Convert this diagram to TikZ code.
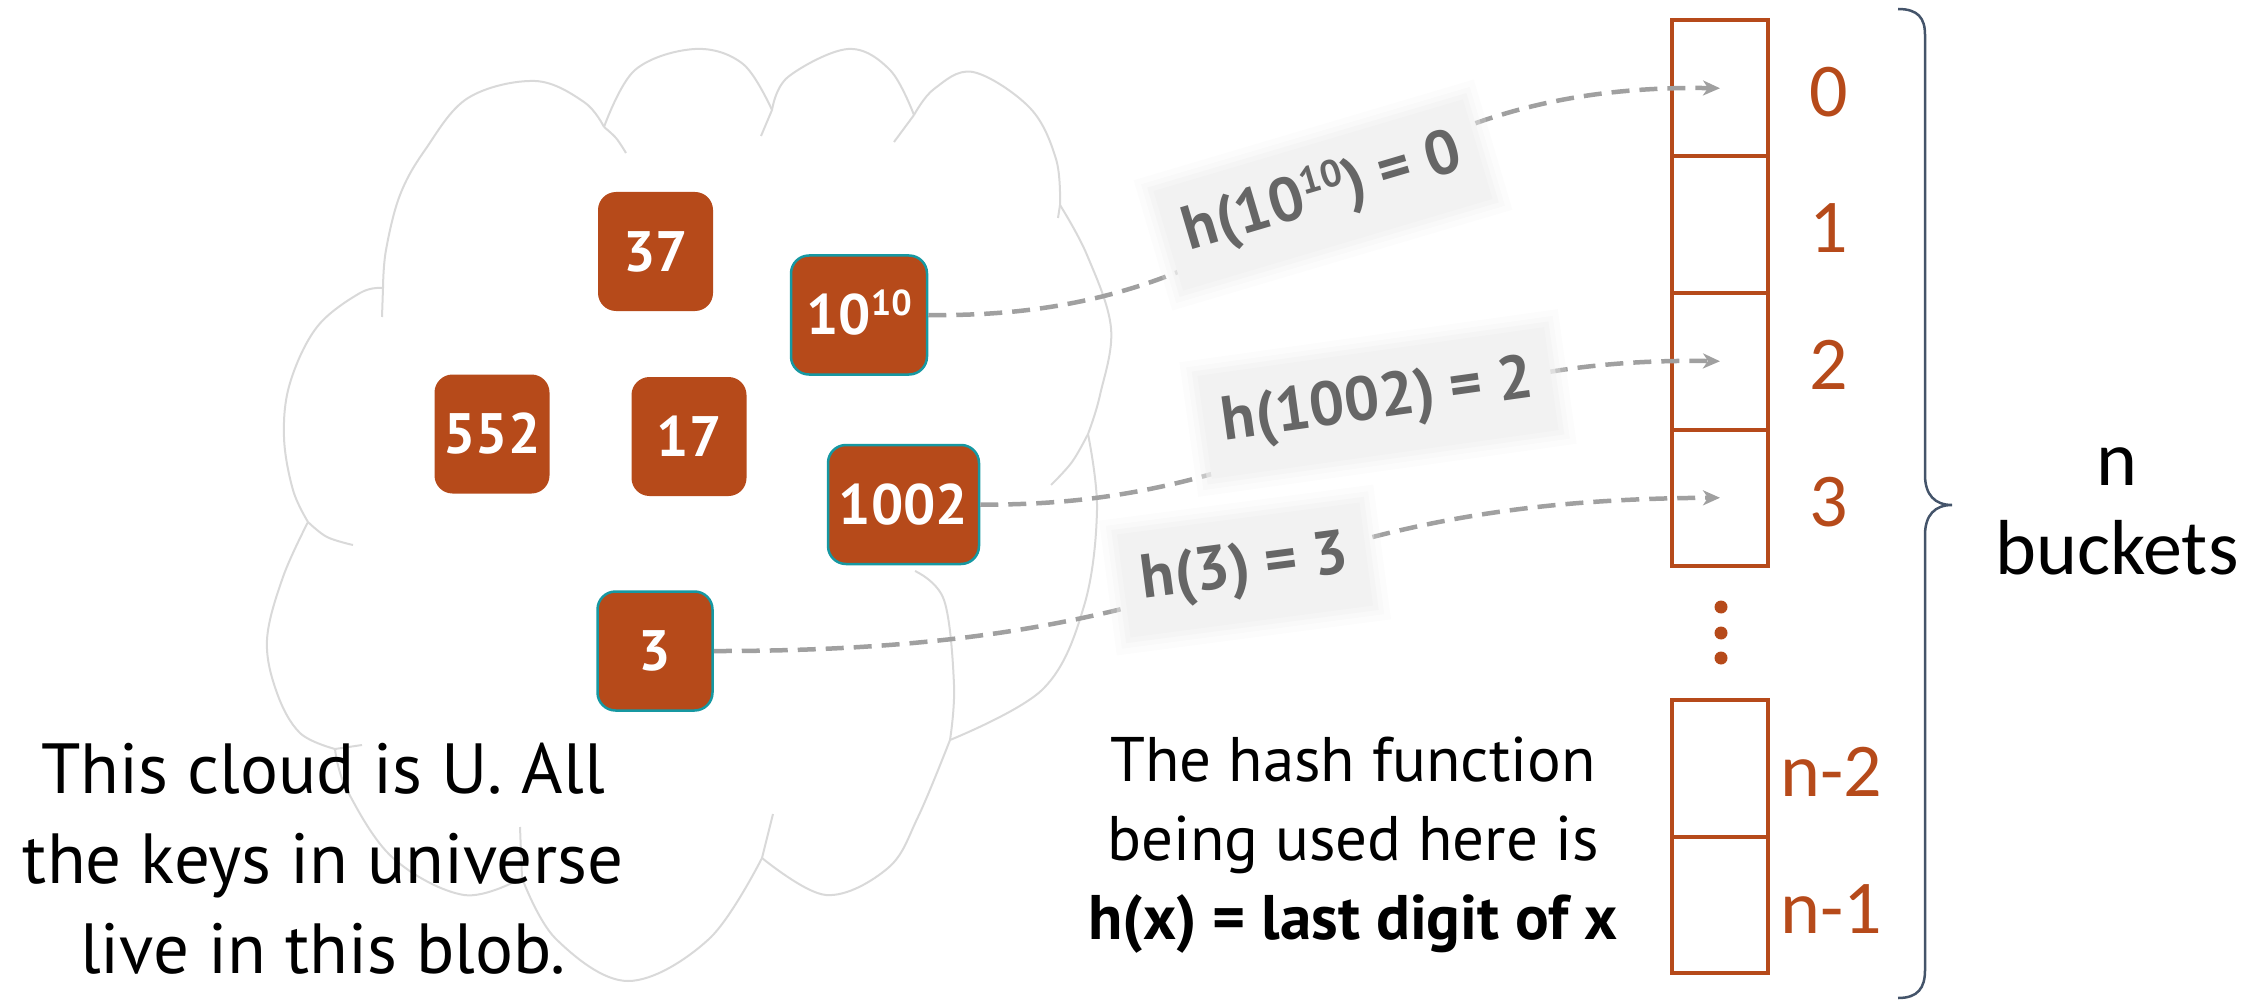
\documentclass[tikz,border=0pt]{standalone}
\usepackage{fontspec}
\setmainfont{PT Sans}
\newfontfamily\carl{Carlito}
\usetikzlibrary{arrows.meta,calc}
\definecolor{rust}{RGB}{182,74,26}
\definecolor{tealb}{RGB}{22,152,162}
\definecolor{cloudg}{RGB}{217,217,217}
\definecolor{lineg}{RGB}{160,160,160}
\definecolor{labg}{RGB}{242,242,242}
\definecolor{labt}{RGB}{102,102,102}
\definecolor{bracec}{RGB}{68,84,106}
\newcommand{\mysup}[2]{\smash{\raisebox{#2}{\fontsize{#1}{#1}\selectfont 10}}}
\begin{document}
\begin{tikzpicture}[x=1pt,y=-1pt,
  cloudline/.style={draw=cloudg, line width=2pt},
  keybox/.style={rectangle, rounded corners=18pt, fill=rust, text=white,
    font=\bfseries\fontsize{57}{57}\selectfont, minimum width=115pt,
    minimum height=119pt, inner xsep=9pt},
  mapped/.style={keybox, draw=tealb, line width=2.5pt},
  cell/.style={rectangle, draw=rust, line width=4pt, minimum width=96pt,
    minimum height=136.5pt, inner sep=0pt, outer sep=0pt},
  cellnum/.style={text=rust, font=\carl\fontsize{76}{76}\selectfont, anchor=base},
  hashline/.style={draw=lineg, line width=4.5pt, dash pattern=on 18pt off 10pt,
    -{Stealth[length=17pt, width=15pt, inset=5pt]}},
  hlabel/.style={rectangle, fill=labg, text=labt,
    font=\bfseries\fontsize{62}{62}\selectfont, inner xsep=18pt,
    minimum height=104pt,
    preaction={draw=labg, line width=10pt, draw opacity=0.55},
    preaction={draw=labg, line width=20pt, draw opacity=0.35},
    preaction={draw=labg, line width=32pt, draw opacity=0.2}},
  bigtext/.style={align=center, anchor=base, text=black}
]
\useasboundingbox (0,0) rectangle (2259,1000);

% ---- cloud ----
\draw[cloudline] plot[smooth, tension=0.6] coordinates {(383,288) (386,250) (400,195) (425,150) (468,98) (535,81) (584,102) (604,127)};
\draw[cloudline] plot[smooth, tension=0.6] coordinates {(604,127) (635,70) (695,49) (743,64) (772,110)};
\draw[cloudline] plot[smooth, tension=0.6] coordinates {(772,110) (788,77) (848,49) (890,70) (914,115)};
\draw[cloudline] plot[smooth, tension=0.6] coordinates {(914,115) (934,89) (973,72) (1030,108) (1056,159) (1060,205)};
\draw[cloudline] plot[smooth, tension=0.6] coordinates {(1060,205) (1087,255) (1111,328) (1100,395) (1088,434)};
\draw[cloudline] plot[smooth, tension=0.6] coordinates {(1088,434) (1097,510) (1084,606) (1043,689) (950,740)};
\draw[cloudline] plot[smooth, tension=0.6] coordinates {(950,740) (918,817) (888,868) (826,895) (762,858)};
\draw[cloudline] plot[smooth, tension=0.6] coordinates {(762,858) (709,939) (628,981) (556,939) (522,878)};
\draw[cloudline] plot[smooth, tension=0.6] coordinates {(522,878) (464,895) (393,858) (347,790) (335,749)};
\draw[cloudline] plot[smooth, tension=0.6] coordinates {(335,749) (300,733) (277,693) (267,640) (283,577) (308,522)};
\draw[cloudline] plot[smooth, tension=0.6] coordinates {(308,522) (293,490) (284,437) (290,383) (317,327) (360,293) (383,288)};
% inner hooks
\draw[cloudline] plot[smooth, tension=0.6] coordinates {(383,288) (382,317)};
\draw[cloudline] plot[smooth, tension=0.6] coordinates {(604,127) (616,138) (626,153)};
\draw[cloudline] plot[smooth, tension=0.6] coordinates {(772,110) (761,136)};
\draw[cloudline] plot[smooth, tension=0.6] coordinates {(914,115) (894,142)};
\draw[cloudline] plot[smooth, tension=0.6] coordinates {(1060,205) (1058,218)};
\draw[cloudline] plot[smooth, tension=0.6] coordinates {(1088,434) (1072,462) (1051,485)};
\draw[cloudline] plot[smooth, tension=0.6] coordinates {(950,740) (954,685) (944,600) (915,571)};
\draw[cloudline] plot[smooth, tension=0.6] coordinates {(762,858) (773,814)};
\draw[cloudline] plot[smooth, tension=0.6] coordinates {(522,878) (520,827)};
\draw[cloudline] plot[smooth, tension=0.6] coordinates {(335,749) (362,745)};
\draw[cloudline] plot[smooth, tension=0.6] coordinates {(308,522) (327,537) (353,545)};

% ---- keys ----
\node[keybox] (k37) at (655.5,251.5) {37};
\node[keybox] (k552) at (492,434) {552};
\node[keybox] (k17) at (689,436.5) {17};
\node[mapped, minimum width=136pt] (kten) at (859,315) {10\mysup{36}{19pt}};
\node[mapped, minimum width=151pt] (k1002) at (903.5,504.5) {1002};
\node[mapped] (k3) at (655,651) {3};

% ---- bucket array ----
\node[cell] (b0) at (1720,88.25) {};
\node[cell] (b1) at (1720,224.75) {};
\node[cell] (b2) at (1720,361.25) {};
\node[cell] (b3) at (1720,497.75) {};
\node[cell] (bn2) at (1720,768.25) {};
\node[cell] (bn1) at (1720,904.75) {};
\fill[rust] (1721,607) circle (6.5) (1721,633) circle (6.5) (1721,658) circle (6.5);

\node[cellnum] (n0) at (1829,117) {0};
\node[cellnum] (n1) at (1829,253) {1};
\node[cellnum] (n2) at (1829,389) {2};
\node[cellnum] (n3) at (1829,526) {3};
\node[cellnum] (nn2) at (1831,796) {n-2};
\node[cellnum] (nn1) at (1831,933) {n-1};

% ---- hash connectors ----
\draw[hashline] (kten.east) .. controls +(373,5) and +(-390,-6) .. (b0.center);
\draw[hashline] (k1002.east) .. controls +(311,3) and +(-340,-6) .. (b2.center);
\draw[hashline] (k3.east) .. controls +(537,1) and +(-470,2) .. (b3.center);

% ---- labels ----
\node[hlabel, rotate=16.5] (l1) at (1323,195) {h(10\mysup{38}{20pt}) = 0};
\node[hlabel, rotate=8] (l2) at (1378,403) {h(1002) = 2};
\node[hlabel, rotate=7.5] (l3) at (1245,570) {h(3) = 3};

% ---- texts ----
\node[bigtext, font=\fontsize{71}{90}\selectfont] (ctext) at (323,973) {This cloud is U. All\\the keys in universe\\live in this blob.};
\node[bigtext, font=\fontsize{63}{79}\selectfont] (htext) at (1353,939) {The hash function\\being used here is\\\textbf{h(x) = last digit of x}};
\node[bigtext, font=\carl\fontsize{78}{89}\selectfont] (nb) at (2117,574) {n\\buckets};

% ---- brace ----
\draw[bracec, line width=2.5pt] (1898,9) .. controls (1918,9) and (1925,18) .. (1925,35)
  -- (1925,475) .. controls (1925,495) and (1935,505) .. (1952,505)
  .. controls (1935,505) and (1925,515) .. (1925,535)
  -- (1925,970) .. controls (1925,988) and (1918,998) .. (1898,998);
\end{tikzpicture}
\end{document}
